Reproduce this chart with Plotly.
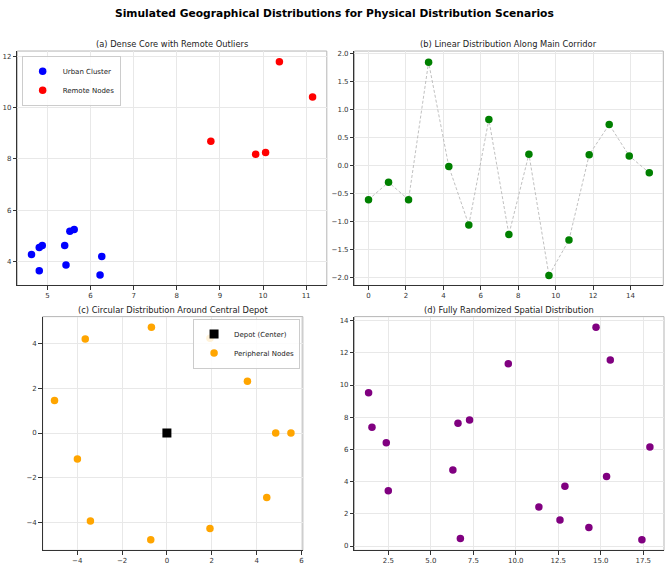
import plotly.graph_objects as go

# ---------------- data ----------------
# (a) Dense core with remote outliers
urban_x = [4.63, 4.81, 4.88, 4.81, 5.40, 5.43, 5.52, 5.62, 6.26, 6.22]
urban_y = [4.27, 4.54, 4.62, 3.63, 4.62, 3.86, 5.18, 5.24, 4.19, 3.47]
remote_x = [8.79, 9.83, 10.06, 10.38, 11.15]
remote_y = [8.69, 8.18, 8.25, 11.79, 10.42]

# (b) Linear distribution along corridor
corr_x = [0.0, 1.07, 2.14, 3.21, 4.29, 5.36, 6.43, 7.50, 8.57, 9.64, 10.71, 11.79, 12.86, 13.93, 15.0]
corr_y = [-0.61, -0.30, -0.61, 1.84, -0.02, -1.06, 0.82, -1.23, 0.20, -1.96, -1.33, 0.19, 0.73, 0.17, -0.13]

# (c) Circular distribution around depot
depot_x = [0.0]
depot_y = [0.0]
ring_x = [-0.69, 1.92, -3.64, 3.59, -5.01, 4.85, 5.53, -3.99, 4.45, -3.41, 1.92, -0.72]
ring_y = [4.71, 4.22, 4.18, 2.31, 1.45, 0.0, 0.0, -1.16, -2.87, -3.91, -4.25, -4.75]

# (d) Fully randomized
rand_x = [1.34, 1.54, 2.38, 2.50, 6.30, 6.60, 7.28, 6.74, 9.56, 11.36, 12.60, 12.89, 14.72, 15.56, 15.34, 14.30, 17.42, 17.89]
rand_y = [9.52, 7.38, 6.41, 3.43, 4.73, 7.63, 7.83, 0.47, 11.33, 2.43, 1.62, 3.72, 13.59, 11.55, 4.32, 1.15, 0.39, 6.15]

titles = ["(a) Dense Core with Remote Outliers",
          "(b) Linear Distribution Along Main Corridor",
          "(c) Circular Distribution Around Central Depot",
          "(d) Fully Randomized Spatial Distribution"]
main_title = "Simulated Geographical Distributions for Physical Distribution Scenarios"

# ---------------- layout helpers ----------------
W, H = 669, 565
def dx(p):
    return p / W
def dy(p):
    return 1 - p / H

boxes = {  # left, right, top, bottom in px
    1: (17.3, 327.3, 50.3, 286.0),
    2: (355.0, 664.3, 50.3, 286.0),
    3: (42.7, 303.3, 317.3, 552.3),
    4: (355.0, 665.0, 317.3, 552.3),
}

fig = go.Figure()

ms = 7.5
fig.add_trace(go.Scatter(x=urban_x, y=urban_y, mode="markers", name="Urban Cluster",
                         marker=dict(color="blue", size=ms), xaxis="x", yaxis="y", legend="legend"))
fig.add_trace(go.Scatter(x=remote_x, y=remote_y, mode="markers", name="Remote Nodes",
                         marker=dict(color="red", size=ms), xaxis="x", yaxis="y", legend="legend"))
fig.add_trace(go.Scatter(x=corr_x, y=corr_y, mode="lines+markers", showlegend=False,
                         line=dict(color="#b0b0b0", width=0.8, dash="3px,2px"),
                         marker=dict(color="green", size=ms), xaxis="x2", yaxis="y2"))
fig.add_trace(go.Scatter(x=depot_x, y=depot_y, mode="markers", name="Depot (Center)",
                         marker=dict(color="black", size=9, symbol="square"),
                         xaxis="x3", yaxis="y3", legend="legend2"))
fig.add_trace(go.Scatter(x=ring_x, y=ring_y, mode="markers", name="Peripheral Nodes",
                         marker=dict(color="orange", size=ms), xaxis="x3", yaxis="y3", legend="legend2"))
fig.add_trace(go.Scatter(x=rand_x, y=rand_y, mode="markers", showlegend=False,
                         marker=dict(color="purple", size=ms), xaxis="x4", yaxis="y4"))

axis_common = dict(showgrid=True, gridcolor="#e8e8e8", gridwidth=1, zeroline=False,
                   showline=True, linecolor="#333333", linewidth=1, mirror=False,
                   ticks="outside", ticklen=3.5, tickcolor="#333333", tickwidth=1,
                   tickfont=dict(family="DejaVu Sans", size=7, color="#333333"))

xspecs = {
    1: dict(range=[4.30, 11.48], tick0=5, dtick=1),
    2: dict(range=[-0.75, 15.75], tick0=0, dtick=2),
    3: dict(range=[-5.54, 6.06], tick0=0, dtick=2),
    4: dict(range=[0.51, 18.72], tick0=0, dtick=2.5, tickformat=".1f"),
}
yspecs = {
    1: dict(range=[3.06, 12.21], tick0=0, dtick=2),
    2: dict(range=[-2.14, 2.04], tick0=0, dtick=0.5, tickformat=".1f"),
    3: dict(range=[-5.22, 5.18], tick0=0, dtick=2),
    4: dict(range=[-0.27, 14.25], tick0=0, dtick=2),
}

layout = dict(width=W, height=H, margin=dict(l=0, r=0, t=0, b=0),
              paper_bgcolor="white", plot_bgcolor="white", showlegend=True)
shapes = []
annotations = []
for i in range(1, 5):
    l, r, t, b = boxes[i]
    xa = "xaxis" if i == 1 else f"xaxis{i}"
    ya = "yaxis" if i == 1 else f"yaxis{i}"
    xs = "x" if i == 1 else f"x{i}"
    ys = "y" if i == 1 else f"y{i}"
    layout[xa] = dict(axis_common, domain=[dx(l), dx(r)], anchor=ys, tickmode="linear", **xspecs[i])
    layout[ya] = dict(axis_common, domain=[dy(b), dy(t)], anchor=xs, tickmode="linear", **yspecs[i])
    shapes.append(dict(type="rect", xref=f"{xs} domain", yref=f"{ys} domain",
                       x0=0, x1=1, y0=0, y1=1, line=dict(color="#b5b5b5", width=1), layer="below"))
    annotations.append(dict(text=titles[i - 1], xref="paper", yref="paper",
                            x=dx((l + r) / 2), y=dy(t - 7), xanchor="center", yanchor="middle",
                            showarrow=False, borderpad=0,
                            font=dict(family="DejaVu Sans", size=8.3, color="#222222")))

annotations.append(dict(text="<b>" + main_title + "</b>", xref="paper", yref="paper",
                        x=0.5, y=dy(13), xanchor="center", yanchor="middle", showarrow=False,
                        font=dict(family="DejaVu Sans", size=10.7, color="black")))

layout["shapes"] = shapes
layout["annotations"] = annotations
legend_common = dict(bgcolor="rgba(255,255,255,0.85)", bordercolor="#cccccc", borderwidth=1,
                     font=dict(family="DejaVu Sans", size=7, color="#222222"),
                     yanchor="top", itemsizing="trace",
                     tracegroupgap=0, itemwidth=30)
layout["legend"] = dict(legend_common, x=dx(21.7), y=dy(55), xanchor="left")
layout["legend2"] = dict(legend_common, x=dx(300.5), y=dy(319.3), xanchor="right")

fig.update_layout(**layout)
fig.write_html("out.html")
